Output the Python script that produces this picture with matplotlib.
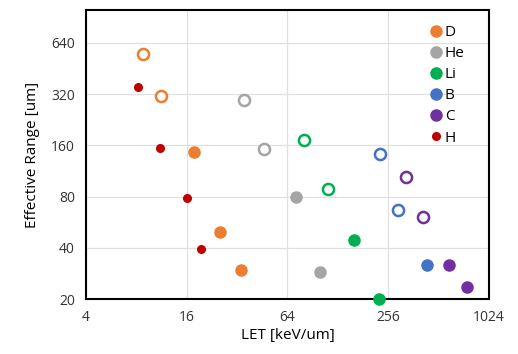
import matplotlib
matplotlib.use('Agg')
import matplotlib.pyplot as plt
from matplotlib.ticker import FixedLocator, NullLocator

plt.rcParams['font.family'] = ['Open Sans', 'DejaVu Sans']

species = ['D', 'He', 'Li', 'B', 'C', 'H']
colors = ['#ED7D31', '#A5A5A5', '#00B050', '#4472C4', '#7030A0', '#C00000']

# filled points (LET, range)
filled_let = {
    'D': [17.7, 25.3, 33.9],
    'He': [72.2, 99.9],
    'Li': [160, 225],
    'B': [437],
    'C': [587, 758],
    'H': [8.2, 11.1, 16.1, 19.5],
}
filled_rng = {
    'D': [147, 49.3, 29.6],
    'He': [79.2, 28.8],
    'Li': [44.5, 20],
    'B': [31.6],
    'C': [31.6, 23.6],
    'H': [351, 155, 78.9, 39.5],
}

# open points
open_let = {
    'D': [8.8, 11.3],
    'He': [35.1, 46.3],
    'Li': [79.8, 112],
    'B': [228, 294],
    'C': [326, 412],
}
open_rng = {
    'D': [551, 313],
    'He': [296, 152],
    'Li': [172, 88.3],
    'B': [142, 67],
    'C': [104, 61],
}

xticks = [4, 16, 64, 256, 1024]
yticks = [20, 40, 80, 160, 320, 640]

fig = plt.figure(figsize=(5.18, 3.54), dpi=100)
ax = fig.add_axes([0.166, 0.155, 0.778, 0.817])

for name, col in zip(species, colors):
    ms = 5.5 if name == 'H' else 8
    ax.plot(filled_let[name], filled_rng[name], 'o', color=col, ms=ms,
            mec=col, label=name, clip_on=False, zorder=3)
    if name in open_let:
        ax.plot(open_let[name], open_rng[name], 'o', mfc='white', mec=col,
                mew=1.8, ms=8, clip_on=False, zorder=3)

ax.set_xscale('log', base=2)
ax.set_yscale('log', base=2)
ax.set_xlim(4, 1024)
ax.set_ylim(20, 1000)
ax.xaxis.set_major_locator(FixedLocator(xticks))
ax.yaxis.set_major_locator(FixedLocator(yticks))
ax.xaxis.set_minor_locator(NullLocator())
ax.yaxis.set_minor_locator(NullLocator())
ax.set_xticklabels([str(t) for t in xticks])
ax.set_yticklabels([str(t) for t in yticks])
ax.tick_params(length=0, labelsize=10, pad=8, colors='#333333')
ax.grid(True, color='#E0E0E0', lw=0.9)
ax.set_axisbelow(True)
for s in ax.spines.values():
    s.set_linewidth(1.5)
    s.set_color('black')

ax.set_xlabel('LET [keV/um]', fontsize=11, labelpad=2)
ax.set_ylabel('Effective Range [um]', fontsize=11, labelpad=8)

ax.legend(loc='upper right', bbox_to_anchor=(0.97, 0.99), frameon=False,
          fontsize=11, handletextpad=0.0, handlelength=1.2,
          labelspacing=0.4, borderaxespad=0.4)

fig.savefig('out.png', dpi=100)
